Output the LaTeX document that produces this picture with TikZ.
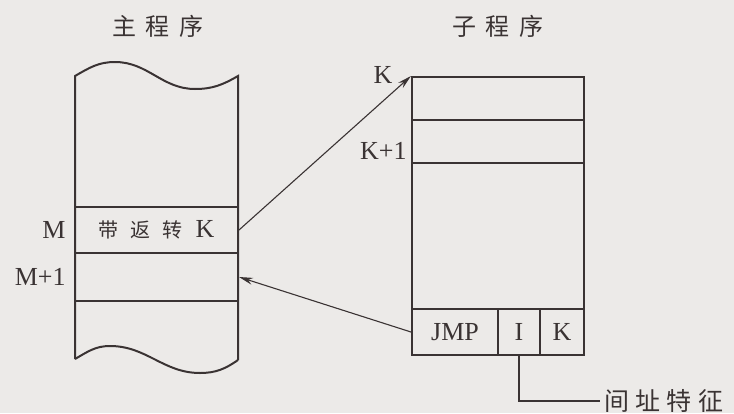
\documentclass[tikz,border=0pt]{standalone}
\usepackage{fontspec}
\setmainfont{Liberation Serif}
\newfontfamily\cjk{Noto Sans CJK SC}
\usetikzlibrary{arrows.meta,positioning}
\definecolor{paper}{HTML}{ECEAE8}
\definecolor{ink}{HTML}{3A3333}

\begin{document}
\begin{tikzpicture}[x=0.5pt, y=-0.5pt, every node/.style={font=\fontsize{13}{15}\selectfont, text=ink}, >={Stealth[length=7pt,width=3.5pt]},
	cell/.style={draw=ink, line width=1pt, inner sep=0pt, minimum height=23pt},
	link/.style={->, draw=ink, line width=0.55pt},
	title/.style={font=\cjk\fontsize{12}{14}\selectfont}]
	\fill[paper] (0,0) rectangle (734,413);
	\useasboundingbox (0,0) rectangle (734,413);
	% main program
	\node[title] (maintitle) at (158,26) {主\hspace{.4em}程\hspace{.4em}序};
	\draw[ink, line width=1pt] (75,359) -- (75,76) to[out=30,in=180] (115,62) to[out=0,in=180] (195,89) to[out=0,in=210] (238,76) -- (238,360);
	\draw[ink, line width=1pt] (75,359) to[out=30,in=180] (110,346) to[out=0,in=180] (200,373) to[out=0,in=215] (238,360);
	\node[cell, minimum width=81.5pt] (mrow) at (156.5,230) {{\cjk\fontsize{10}{12}\selectfont 带\hspace{.6em}返\hspace{.6em}转}\hspace{.5em}K};
	\node[cell, minimum width=81.5pt, minimum height=24pt] (m1row) at (156.5,277) {};
	\node[left=4pt of mrow, inner sep=0pt] (mlbl) {M};
	\node[left=4pt of m1row, inner sep=0pt] (m1lbl) {M+1};
	% subroutine
	\node[title] (subtitle) at (498,26) {子\hspace{.4em}程\hspace{.4em}序};
	\draw[ink, line width=1pt] (412,77) rectangle (584,355);
	\node[cell, minimum width=86pt, minimum height=21.5pt] (krow) at (498,98.5) {};
	\node[cell, minimum width=86pt, minimum height=21.5pt] (k1row) at (498,141.5) {};
	\node[cell, minimum width=43pt] (jmp) at (455,332) {JMP};
	\node[cell, minimum width=21pt] (icell) at (519,332) {I};
	\node[cell, minimum width=22pt] (kcell) at (562,332) {K};
	\node (klbl) at (383,75) {K};
	\node[anchor=east, inner sep=0pt] (k1lbl) at (407,151) {K+1};
	\node[anchor=west, inner sep=2pt, font=\cjk\fontsize{12.5}{14}\selectfont] (feat) at (600,401) {间\hspace{.25em}址\hspace{.25em}特\hspace{.25em}征};
	% links
	\draw[link] (mrow.east) -- (krow.north west);
	\draw[link] (jmp.west) -- (m1row.east);
	\draw[ink, line width=0.55pt] (icell.south) |- (feat.west);
\end{tikzpicture}
\end{document}
